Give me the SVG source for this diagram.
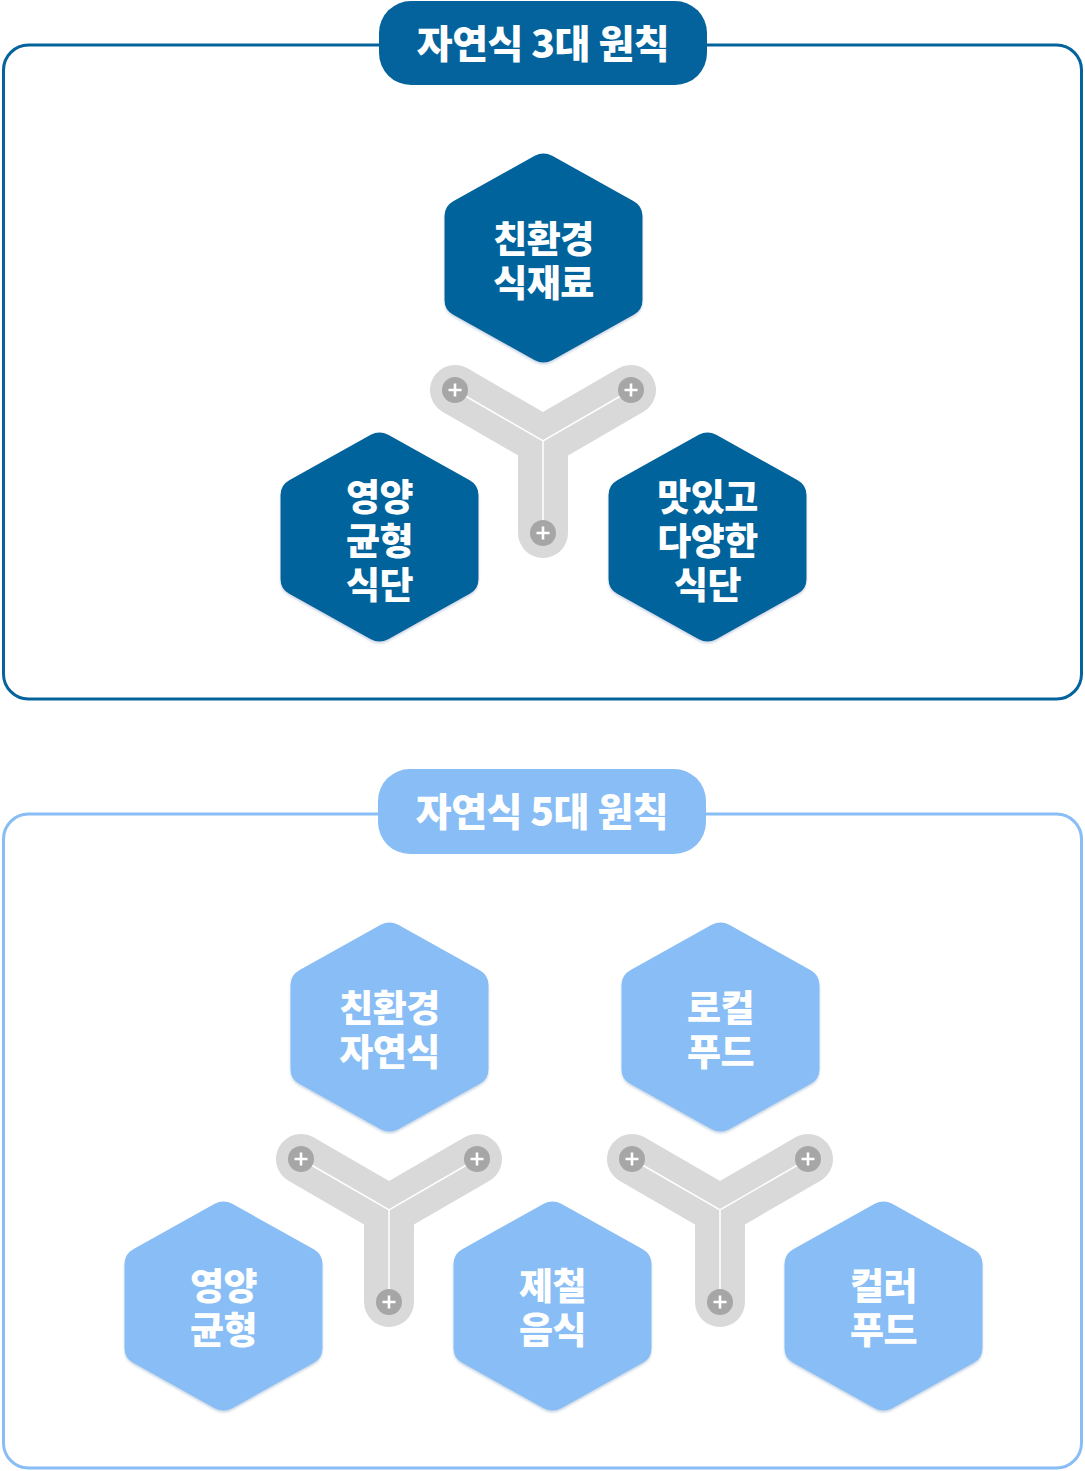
<svg xmlns="http://www.w3.org/2000/svg" xmlns:xlink="http://www.w3.org/1999/xlink" width="1085" height="1471" viewBox="0 0 1085 1471">
<style>
.t{font-family:"Noto Sans CJK KR","Noto Sans",sans-serif;font-weight:900;fill:#fff;text-anchor:middle;dominant-baseline:central}
.ht{font-size:37px;letter-spacing:-0.5px}
.tt{font-size:39px;letter-spacing:-0.5px}
.arm{fill:none;stroke:#d9d9d9;stroke-width:50;stroke-linecap:round;stroke-linejoin:miter}
.wl{fill:none;stroke:#fff;stroke-width:1.5}
.pc{fill:#a6a6a6}
.pl{stroke:#fff;stroke-width:2.6;fill:none}
.dark{fill:#04639c}
.light{fill:#88bdf5}
</style>
<defs>
<path id="hex" d="M -8.74,-102.14 Q 0,-107 8.74,-102.14 L 90.26,-56.86 Q 99,-52 99,-42 L 99,42 Q 99,52 90.26,56.86 L 8.74,102.14 Q 0,107 -8.74,102.14 L -90.26,56.86 Q -99,52 -99,42 L -99,-42 Q -99,-52 -90.26,-56.86 Z"/>
<filter id="sh" x="-10%" y="-10%" width="120%" height="125%">
<feDropShadow dx="0" dy="2" stdDeviation="1.2" flood-color="#6a8fb5" flood-opacity="0.35"/>
</filter>
<g id="plus"><circle r="13" class="pc"/><path class="pl" d="M-6.5,0H6.5M0,-6.5V6.5"/></g>
<g id="ycon">
<path class="arm" d="M-88,-51 L0,0 L88,-51 M0,0 L0,92"/>
<path class="wl" d="M-88,-51 L0,0 L88,-51 M0,0 L0,92"/>
<use xlink:href="#plus" x="-88" y="-51"/>
<use xlink:href="#plus" x="88" y="-51"/>
<use xlink:href="#plus" x="0" y="92"/>
</g>
</defs>

<!-- Section 1 -->
<g id="box3">
<rect x="3.5" y="45" width="1078" height="654" rx="25" fill="none" stroke="#04639c" stroke-width="3"/>
</g>
<g id="title3">
<rect x="379" y="1" width="328" height="84" rx="32" class="dark"/>
<text class="t tt" x="543" y="41">자연식 3대 원칙</text>
</g>

<g id="connectors">
<use xlink:href="#ycon" x="543" y="441"/>
<use xlink:href="#ycon" x="389" y="1210"/>
<use xlink:href="#ycon" x="720" y="1210"/>
</g>

<g id="n1">
<use xlink:href="#hex" x="543.5" y="258" class="dark" filter="url(#sh)"/>
<text class="t ht"><tspan x="543.5" y="237">친환경</tspan><tspan x="543.5" y="281">식재료</tspan></text>
</g>
<g id="n2">
<use xlink:href="#hex" x="379.5" y="537" class="dark" filter="url(#sh)"/>
<text class="t ht"><tspan x="379.5" y="495">영양</tspan><tspan x="379.5" y="539">균형</tspan><tspan x="379.5" y="583">식단</tspan></text>
</g>
<g id="n3">
<use xlink:href="#hex" x="707.5" y="537" class="dark" filter="url(#sh)"/>
<text class="t ht"><tspan x="707.5" y="495">맛있고</tspan><tspan x="707.5" y="539">다양한</tspan><tspan x="707.5" y="583">식단</tspan></text>
</g>

<!-- Section 2 -->
<g id="box5">
<rect x="3.5" y="814" width="1078" height="654" rx="25" fill="none" stroke="#88bdf5" stroke-width="3"/>
</g>
<g id="title5">
<rect x="378" y="769" width="328" height="85" rx="32" class="light"/>
<text class="t tt" x="542" y="809">자연식 5대 원칙</text>
</g>

<g id="m1">
<use xlink:href="#hex" x="389.5" y="1027" class="light" filter="url(#sh)"/>
<text class="t ht"><tspan x="389.5" y="1006">친환경</tspan><tspan x="389.5" y="1050">자연식</tspan></text>
</g>
<g id="m2">
<use xlink:href="#hex" x="720.5" y="1027" class="light" filter="url(#sh)"/>
<text class="t ht"><tspan x="720.5" y="1006">로컬</tspan><tspan x="720.5" y="1050">푸드</tspan></text>
</g>
<g id="m3">
<use xlink:href="#hex" x="223.5" y="1306" class="light" filter="url(#sh)"/>
<text class="t ht"><tspan x="223.5" y="1284">영양</tspan><tspan x="223.5" y="1328">균형</tspan></text>
</g>
<g id="m4">
<use xlink:href="#hex" x="552.5" y="1306" class="light" filter="url(#sh)"/>
<text class="t ht"><tspan x="552.5" y="1284">제철</tspan><tspan x="552.5" y="1328">음식</tspan></text>
</g>
<g id="m5">
<use xlink:href="#hex" x="883.5" y="1306" class="light" filter="url(#sh)"/>
<text class="t ht"><tspan x="883.5" y="1284">컬러</tspan><tspan x="883.5" y="1328">푸드</tspan></text>
</g>
</svg>
